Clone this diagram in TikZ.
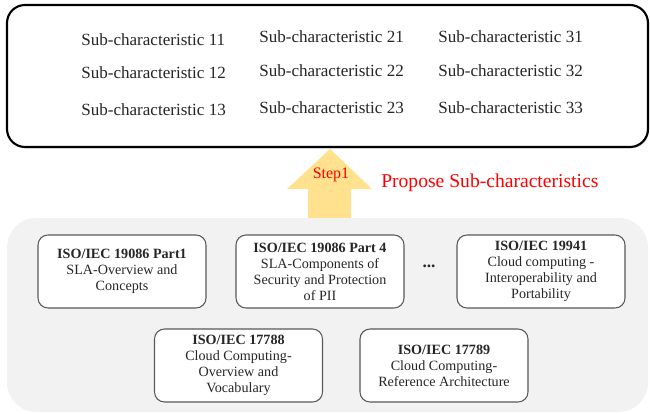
\documentclass[tikz,border=0pt]{standalone}
\usepackage{fontspec}
\setmainfont{Liberation Serif}
\usepackage{tikz}
\usetikzlibrary{shadows}

\definecolor{arrowyellow}{RGB}{255,225,142}
\definecolor{panelgray}{RGB}{242,242,242}
\definecolor{boxedge}{RGB}{89,89,89}
\definecolor{txtgray}{RGB}{38,38,38}

\tikzset{
  subtext/.style={anchor=west,inner sep=0.75pt,text=txtgray,font=\fontsize{12.8}{15}\selectfont},
  stdbox/.style={draw=boxedge,line width=0.8pt,fill=white,rounded corners=7.5pt,
    minimum width=126pt,minimum height=54.75pt,align=center,inner sep=1pt,
    text=txtgray,font=\fontsize{10.6}{12}\selectfont},
}

\begin{document}
\begin{tikzpicture}[x=0.75pt,y=0.75pt,yscale=-1,xscale=1]
%set diagram left start at 0, and has height of 414
\useasboundingbox (0,0) rectangle (650,414);

%Rounded Rect [top box]
\draw [line width=1.6pt, rounded corners=13.5pt, fill=white, drop shadow={shadow xshift=0.8pt,shadow yshift=-1pt,opacity=0.35}] (7,5) rectangle (648,147);
%Block Arrow [step 1]
\fill [arrowyellow] (308,220) -- (308,189) -- (287,189) -- (330,149) -- (372,189) -- (351,189) -- (351,220) -- cycle;
%Rounded Rect [standards panel]
\fill [panelgray, rounded corners=22pt] (7,218) rectangle (648,412);

% Text Node
\draw (80,40) node [subtext] (sub11) {Sub-characteristic 11};
% Text Node
\draw (80,73) node [subtext] (sub12) {Sub-characteristic 12};
% Text Node
\draw (80,110) node [subtext] (sub13) {Sub-characteristic 13};
% Text Node
\draw (258,37) node [subtext] (sub21) {Sub-characteristic 21};
% Text Node
\draw (258,71) node [subtext] (sub22) {Sub-characteristic 22};
% Text Node
\draw (258,108) node [subtext] (sub23) {Sub-characteristic 23};
% Text Node
\draw (437,37) node [subtext] (sub31) {Sub-characteristic 31};
% Text Node
\draw (437,71) node [subtext] (sub32) {Sub-characteristic 32};
% Text Node
\draw (437,108) node [subtext] (sub33) {Sub-characteristic 33};

% Text Node
\draw (331,175) node [inner sep=0.75pt, text=red, font=\fontsize{12}{14}\selectfont] (step) {Step1};
% Text Node
\draw (380,183) node [anchor=west, inner sep=0.75pt, text=red, font=\fontsize{14.7}{17}\selectfont] (propose) {Propose Sub-characteristics};

% Standard boxes
\draw (122,271.5) node [stdbox] (iso19086a) {\textbf{ISO/IEC 19086 Part1}\\SLA-Overview and\\Concepts};
\draw (320,271.5) node [stdbox] (iso19086b) {\textbf{ISO/IEC 19086 Part 4}\\SLA-Components of\\Security and Protection\\of PII};
\draw (541,271.5) node [stdbox] (iso19941) {\textbf{ISO/IEC 19941}\\Cloud computing -\\Interoperability and\\Portability};
\draw (238.5,365.5) node [stdbox] (iso17788) {\textbf{ISO/IEC 17788}\\Cloud Computing-\\Overview and\\Vocabulary};
\draw (444,365.5) node [stdbox] (iso17789) {\textbf{ISO/IEC 17789}\\Cloud Computing-\\Reference Architecture};
% Text Node
\draw (429,266) node [inner sep=0.75pt, text=txtgray, font=\fontsize{13}{15}\selectfont\bfseries] (dots) {...};
\end{tikzpicture}
\end{document}
